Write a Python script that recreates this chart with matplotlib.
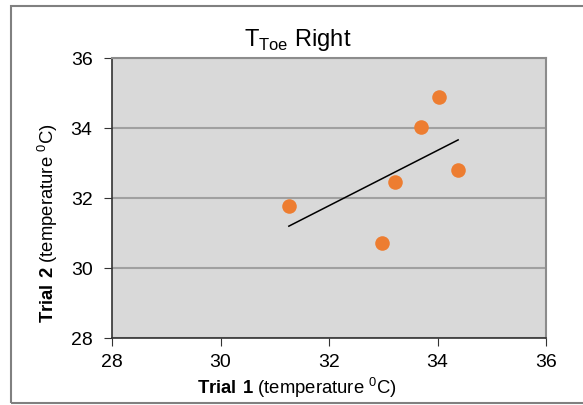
import matplotlib
matplotlib.use('Agg')
import numpy as np
import matplotlib.pyplot as plt
from matplotlib.patches import Rectangle

trial1 = [31.26, 32.98, 33.22, 33.70, 34.03, 34.38]
trial2 = [31.76, 30.72, 32.45, 34.03, 34.90, 32.80]
ticks = [28, 30, 32, 34, 36]

plt.rcParams['font.family'] = 'Liberation Sans'
plt.rcParams['mathtext.fontset'] = 'custom'
plt.rcParams['mathtext.rm'] = 'Liberation Sans'
plt.rcParams['mathtext.bf'] = 'Liberation Sans:bold'

fig = plt.figure(figsize=(5.83, 4.06), dpi=100)
ax = fig.add_axes([112/583, 1 - 339/406, 434/583, 280/406])
ax.set_facecolor('#d9d9d9')

ax.scatter(trial1, trial2, s=110, color='#ed7d31', zorder=3, linewidths=0)
m, b = np.polyfit(trial1, trial2, 1)
xs = np.array([min(trial1), max(trial1)])
ax.plot(xs, m * xs + b, color='black', lw=1.1, zorder=2)

ax.set_xlim(28, 36)
ax.set_ylim(28, 36)
ax.set_xticks(ticks)
ax.set_yticks(ticks)
ax.tick_params(labelsize=14, direction='out', length=6, color='#333333')
ax.tick_params(axis='y', pad=8)
ax.tick_params(axis='x', pad=5)
ax.yaxis.grid(True, color='#a0a0a0', lw=1.5)
ax.set_axisbelow(True)
for s in ['top', 'right']:
    ax.spines[s].set_color('#8c8c8c')
    ax.spines[s].set_linewidth(1.5)
for s in ['left', 'bottom']:
    ax.spines[s].set_color('#333333')
    ax.spines[s].set_linewidth(1.2)

fig.text(298/583, 1 - 40/406, r'T$_{\mathregular{Toe}}$ Right', fontsize=17,
         ha='center', va='center')
fig.text(297/583, 1 - 388/406, r'$\mathbf{Trial\ 1}$ (temperature $^{\mathregular{0}}$C)',
         fontsize=13.3, ha='center', va='center')
fig.text(48/583, 1 - 223/406, r'$\mathbf{Trial\ 2}$ (temperature $^{\mathregular{0}}$C)',
         fontsize=13.3, ha='center', va='center', rotation=90)

fig.patches.append(Rectangle((11/583, 1 - 404/406), 0.99, 397/406, transform=fig.transFigure,
                             fill=False, edgecolor='#808080', lw=1.5))

fig.savefig('out.png', dpi=100)
